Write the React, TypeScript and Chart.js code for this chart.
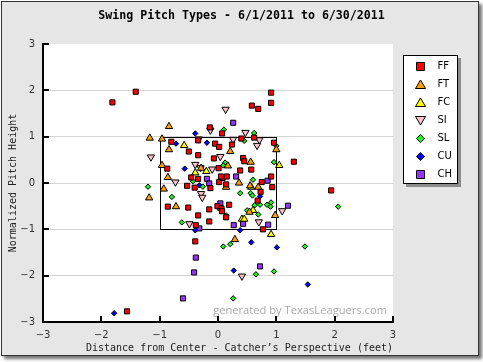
import React, { useEffect, useRef } from 'react';
import { Chart, registerables } from 'chart.js';

Chart.register(...registerables);

const TITLE = 'Swing Pitch Types - 6/1/2011 to 6/30/2011';
const X_TITLE = 'Distance from Center - Catcher\u2019s Perspective (feet)';
const Y_TITLE = 'Normalized Pitch Height';
const WATERMARK = 'generated by TexasLeaguers.com';
const AXIS_TICKS = [-3, -2, -1, 0, 1, 2, 3];
const STRIKE_ZONE = [-1, 1];

const TYPES = ['FF', 'FT', 'FC', 'SI', 'SL', 'CU', 'CH'];
const COLORS = ['#ff0000', '#ffa000', '#ffff00', '#ffc0cb', '#22ee22', '#0000ff', '#9933ff'];
const SHAPES = ['rect', 'triangle', 'triangle', 'triangleDown', 'diamond', 'diamond', 'rect'];

const FF_X = [-1.81, -1.41, 0.91, 0.91, 0.58, 0.69, -0.14, 0.07, 0.40, 0.62, 0.96, -0.80, -0.34, -0.05, 0.02, 0.24, -0.50, -0.34, -0.07, 0.43, 0.45, -0.87, 0.38, 0.57, -0.46, -0.34, 0.01, 0.91, 0.02, 0.08, 0.75, -0.53, -0.40, -0.13, 0.93, 0.73, 0.68, -0.86, -0.51, -0.15, -0.01, 0.06, 0.19, -0.34, 0.14, -0.15, -0.38, 0.77, -0.39, 1.30, 1.94, -1.56, 0.07, 0.05, 0.15, 0.14];
const FF_Y = [1.74, 1.97, 1.95, 1.73, 1.67, 1.60, 1.20, 1.07, 0.96, 0.98, 0.87, 0.89, 0.92, 0.85, 0.78, 0.83, 0.68, 0.60, 0.53, 0.54, 0.47, 0.31, 0.27, 0.29, 0.12, 0.09, 0.32, 0.14, 0.02, 0.11, 0.02, -0.06, -0.10, -0.11, -0.09, -0.19, -0.38, -0.51, -0.53, -0.57, -0.50, -0.55, -0.47, -0.70, -0.74, -0.83, -0.91, -1.00, -1.26, 0.46, -0.16, -2.77, -0.61, 0.14, 0.14, -0.03];

const FT_X = [-0.84, -1.17, -0.96, -0.84, 1.00, 0.21, 0.56, 0.17, -0.96, -0.29, -0.86, 0.36, 0.14, 0.55, 0.69, -0.93, -1.18, -0.72, 0.54, 0.98, 0.29];
const FT_Y = [1.22, 0.97, 0.95, 0.72, 0.72, 0.68, 0.45, 0.37, 0.38, 0.32, 0.12, 0.00, -0.09, -0.06, -0.09, -0.13, -0.32, -0.51, -0.63, -0.70, -1.22];

const FC_X = [-0.58, -0.39, -0.20, 1.05, 0.57, 0.60, 0.41, 0.45, 0.91];
const FC_Y = [0.81, 0.22, 0.25, 0.38, -0.09, -0.59, -0.78, -0.78, -1.11];

const SI_X = [0.13, -0.13, -0.33, 0.26, 0.47, 0.71, 0.67, -1.15, 0.04, -0.39, -0.10, -0.30, -0.73, -0.29, -0.27, -0.49, 0.70, 1.10, 0.41];
const SI_Y = [1.59, 1.14, 0.95, 0.94, 1.09, 0.93, 0.81, 0.56, 0.57, 0.40, 0.30, 0.33, 0.02, -0.23, -0.31, -0.88, -0.84, -0.60, -2.01];

const SL_X = [0.10, 0.62, 0.45, 1.00, 0.12, 0.09, 0.96, 0.60, -1.20, -0.43, -0.26, 0.38, 0.56, 0.59, -0.79, 0.63, 0.72, 0.84, 0.91, 0.90, 0.50, 0.69, 0.14, -0.62, 2.06, 0.09, 0.21, 1.49, 0.65, 0.96, 0.26];
const SL_Y = [1.15, 1.08, 0.91, 0.80, 0.44, 0.38, 0.45, 0.07, -0.08, 0.04, -0.08, -0.22, -0.22, -0.27, -0.30, -0.48, -0.47, -0.47, -0.42, -0.51, -0.59, -0.68, -0.70, -0.85, -0.51, -1.37, -1.32, -1.37, -1.97, -1.91, -2.49];

const CU_X = [-0.39, -0.72, -0.19, -0.57, -0.32, 0.72, -0.39, 0.38, 0.57, 1.01, 0.27, 1.54, -1.78];
const CU_Y = [1.07, 0.85, 0.87, 0.31, -0.05, -0.29, -1.02, -1.02, -1.28, -1.39, -1.89, -2.19, -2.81];

const CH_X = [0.26, -0.19, -0.15, 0.31, 0.85, 0.04, 0.04, 1.20, -0.32, 0.27, 0.43, 0.86, -0.38, 0.72, -0.41, -0.60];
const CH_Y = [1.30, 0.09, -0.01, 0.14, 0.05, -0.44, -0.54, -0.49, -0.98, -0.91, -0.88, -0.90, -1.61, -1.80, -1.93, -2.49];

const SERIES_X = [FF_X, FT_X, FC_X, SI_X, SL_X, CU_X, CH_X];
const SERIES_Y = [FF_Y, FT_Y, FC_Y, SI_Y, SL_Y, CU_Y, CH_Y];

function toPoints(xs: number[], ys: number[]) {
  return xs.map((x, i) => ({ x, y: ys[i] }));
}

function drawMarker(ctx: CanvasRenderingContext2D, shape: string, x: number, y: number, color: string) {
  ctx.beginPath();
  if (shape === 'rect') {
    ctx.rect(x - 4, y - 4, 8, 8);
  } else if (shape === 'triangle') {
    ctx.moveTo(x, y - 4.5);
    ctx.lineTo(x + 5, y + 4);
    ctx.lineTo(x - 5, y + 4);
    ctx.closePath();
  } else if (shape === 'triangleDown') {
    ctx.moveTo(x, y + 4.5);
    ctx.lineTo(x + 5, y - 4);
    ctx.lineTo(x - 5, y - 4);
    ctx.closePath();
  } else {
    ctx.moveTo(x, y - 4);
    ctx.lineTo(x + 4, y);
    ctx.lineTo(x, y + 4);
    ctx.lineTo(x - 4, y);
    ctx.closePath();
  }
  ctx.fillStyle = color;
  ctx.fill();
  ctx.strokeStyle = '#000';
  ctx.lineWidth = 1;
  ctx.stroke();
}

const decorPlugin = {
  id: 'decor',
  beforeDraw(chart: any) {
    const { ctx, chartArea } = chart;
    ctx.save();
    ctx.fillStyle = '#ffffff';
    ctx.fillRect(chartArea.left, chartArea.top, chartArea.right - chartArea.left, chartArea.bottom - chartArea.top);
    ctx.restore();
  },
  beforeDatasetsDraw(chart: any) {
    const { ctx, chartArea, scales } = chart;
    const xs = scales.x;
    const ys = scales.y;
    ctx.save();
    // watermark
    ctx.fillStyle = '#a8a8a8';
    let size = 13;
    ctx.font = `${size}px "Open Sans"`;
    const w = ctx.measureText(WATERMARK).width;
    size = size * 174 / w;
    ctx.font = `${size}px "Open Sans"`;
    ctx.textAlign = 'right';
    ctx.textBaseline = 'alphabetic';
    ctx.fillText(WATERMARK, chartArea.right - 6, chartArea.bottom - 8.5);
    // strike zone
    const x0 = Math.round(xs.getPixelForValue(STRIKE_ZONE[0])) + 0.5;
    const x1 = Math.round(xs.getPixelForValue(STRIKE_ZONE[1])) + 0.5;
    const y0 = Math.round(ys.getPixelForValue(STRIKE_ZONE[1])) + 0.5;
    const y1 = Math.round(ys.getPixelForValue(STRIKE_ZONE[0])) + 0.5;
    ctx.strokeStyle = '#000';
    ctx.lineWidth = 1;
    ctx.strokeRect(x0, y0, x1 - x0, y1 - y0);
    // inward tick marks
    ctx.lineWidth = 2;
    AXIS_TICKS.forEach((v) => {
      const py = Math.round(ys.getPixelForValue(v));
      ctx.beginPath();
      ctx.moveTo(chartArea.left, py);
      ctx.lineTo(chartArea.left + 6, py);
      ctx.stroke();
      const px = Math.round(xs.getPixelForValue(v));
      ctx.beginPath();
      ctx.moveTo(px, chartArea.bottom);
      ctx.lineTo(px, chartArea.bottom - 6);
      ctx.stroke();
    });
    ctx.restore();
  },
  afterDraw(chart: any) {
    const { ctx } = chart;
    ctx.save();
    // title
    let size = 12;
    ctx.font = `bold ${size}px "DejaVu Sans Mono"`;
    const tw = ctx.measureText(TITLE).width;
    size = size * 287 / tw;
    ctx.font = `bold ${size}px "DejaVu Sans Mono"`;
    ctx.fillStyle = '#000';
    ctx.textAlign = 'center';
    ctx.textBaseline = 'middle';
    ctx.fillText(TITLE, 241.5, 15.5);
    // legend
    const left = 403, top = 55, w = 55, h = 129;
    ctx.fillStyle = '#8c8c8c';
    ctx.fillRect(left + 3, top + 3, w, h);
    ctx.fillStyle = '#ffffff';
    ctx.fillRect(left, top, w, h);
    ctx.strokeStyle = '#000';
    ctx.lineWidth = 1;
    ctx.strokeRect(left + 0.5, top + 0.5, w - 1, h - 1);
    chart.data.datasets.forEach((ds: any, i: number) => {
      const cy = Math.round(top + 10.7 + i * 18.1) + 0.5;
      drawMarker(ctx, SHAPES[i], 420.5, cy, COLORS[i]);
      ctx.fillStyle = '#000';
      ctx.font = '10px "DejaVu Sans"';
      ctx.textAlign = 'left';
      ctx.textBaseline = 'middle';
      ctx.fillText(ds.label, 437.5, cy);
    });
    ctx.restore();
  },
};

export default function App() {
  const canvasRef = useRef<HTMLCanvasElement | null>(null);

  useEffect(() => {
    const canvas = canvasRef.current;
    if (!canvas) return;
    const datasets = TYPES.map((t, i) => {
      const shape = SHAPES[i];
      const pointStyle = shape === 'diamond' ? 'rectRot' : shape === 'triangleDown' ? 'triangle' : shape;
      const radius = shape === 'rect' ? 3.6 : shape === 'diamond' ? 2.7 : 4.2;
      return {
        label: t,
        data: toPoints(SERIES_X[i], SERIES_Y[i]),
        pointStyle,
        pointRotation: shape === 'triangleDown' ? 180 : 0,
        pointRadius: radius,
        pointHoverRadius: radius,
        pointBackgroundColor: COLORS[i],
        pointBorderColor: '#000',
        pointBorderWidth: 1,
        backgroundColor: COLORS[i],
        borderColor: '#000',
        showLine: false,
      };
    });

    const chart = new Chart(canvas, {
      type: 'scatter',
      data: { datasets },
      options: {
        animation: false,
        responsive: false,
        devicePixelRatio: 1,
        layout: { padding: { left: 0, top: 44, right: 90, bottom: 0 } },
        plugins: {
          legend: { display: false },
          title: { display: false },
          tooltip: { enabled: false },
        },
        scales: {
          x: {
            type: 'linear',
            min: -3,
            max: 3,
            afterFit: (scale: any) => { scale.height = 40; },
            afterBuildTicks: (scale: any) => { scale.ticks = AXIS_TICKS.map((v) => ({ value: v })); },
            ticks: {
              stepSize: 1,
              color: '#333',
              font: { family: 'DejaVu Sans', size: 10 },
              padding: 7,
              callback: (v: any) => String(v).replace('-', '\u2212'),
            },
            grid: { display: true, drawOnChartArea: false, drawTicks: false },
            border: { display: true, color: '#000', width: 2 },
            title: {
              display: true,
              text: X_TITLE,
              align: 'end',
              color: '#222',
              font: { family: 'DejaVu Sans Mono', size: 10 },
              padding: { top: 0, bottom: 8 },
            },
          },
          y: {
            type: 'linear',
            min: -3,
            max: 3,
            afterFit: (scale: any) => { scale.width = 43; },
            afterBuildTicks: (scale: any) => { scale.ticks = AXIS_TICKS.map((v) => ({ value: v })); },
            ticks: {
              stepSize: 1,
              color: '#333',
              font: { family: 'DejaVu Sans', size: 10 },
              padding: 8,
              callback: (v: any) => String(v).replace('-', '\u2212'),
            },
            grid: {
              drawTicks: false,
              lineWidth: 1,
              color: (c: any) => (c.tick && Math.abs(c.tick.value) < 3 ? '#d4d4d4' : 'rgba(0,0,0,0)'),
            },
            border: { display: true, color: '#000', width: 2 },
            title: {
              display: true,
              text: Y_TITLE,
              color: '#222',
              font: { family: 'DejaVu Sans Mono', size: 10 },
              padding: { top: 7, bottom: 0 },
            },
          },
        },
      },
      plugins: [decorPlugin],
    } as any);

    return () => chart.destroy();
  }, []);

  return (
    <div style={{ position: 'fixed', left: 0, top: 0, width: 483, height: 362, background: '#ffffff', overflow: 'hidden' }}>
      <div
        style={{
          position: 'absolute',
          left: 1,
          top: 1,
          width: 476,
          height: 353,
          border: '1px solid #333',
          background: '#e6e6e6',
          boxShadow: '3px 3px 3px rgba(0,0,0,0.55)',
        }}
      />
      <canvas ref={canvasRef} width={483} height={362} style={{ position: 'absolute', left: 0, top: 0 }} />
    </div>
  );
}
